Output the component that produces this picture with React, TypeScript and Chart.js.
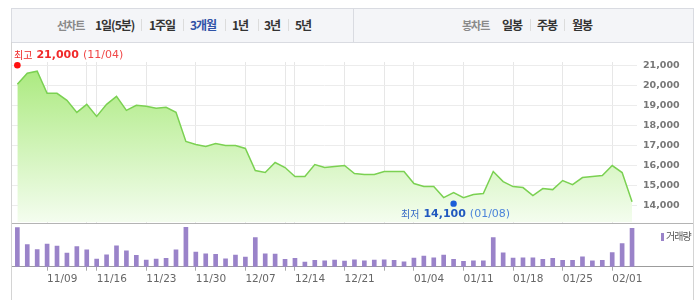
import { useEffect, useRef } from 'react';
import { Chart, registerables } from 'chart.js';

Chart.register(...registerables);

// ---- data ----
const dates: string[] = [
  '11/04', '11/05', '11/06',
  '11/09', '11/10', '11/11', '11/12', '11/13',
  '11/16', '11/17', '11/18', '11/19', '11/20',
  '11/23', '11/24', '11/25', '11/26', '11/27',
  '11/30', '12/01', '12/02', '12/03', '12/04',
  '12/07', '12/08', '12/09', '12/10', '12/11',
  '12/14', '12/15', '12/16', '12/17', '12/18',
  '12/21', '12/22', '12/23', '12/24',
  '12/28', '12/29', '12/30',
  '01/04', '01/05', '01/06', '01/07', '01/08',
  '01/11', '01/12', '01/13', '01/14', '01/15',
  '01/18', '01/19', '01/20', '01/21', '01/22',
  '01/25', '01/26', '01/27', '01/28', '01/29',
  '02/01', '02/02', '02/03',
];

const closePrices: number[] = [
  20050, 20600, 20700,
  19600, 19600, 19250, 18650, 19050,
  18450, 19050, 19450, 18750, 19000,
  18950, 18850, 18900, 18650, 17200,
  17050, 16950, 17100, 17000, 17000,
  16850, 15750, 15650, 16150, 15900,
  15450, 15450, 16050, 15900, 15950,
  16000, 15600, 15550, 15550,
  15700, 15700, 15700,
  15100, 14950, 14950, 14400, 14650,
  14400, 14550, 14600, 15700, 15200,
  14950, 14900, 14500, 14850, 14800,
  15250, 15050, 15400, 15450, 15500,
  16000, 15650, 14200,
];

const volumes: number[] = [
  118, 67, 52,
  68, 62, 41, 61, 51,
  23, 36, 63, 48, 34,
  20, 23, 25, 51, 119,
  44, 39, 37, 24, 35,
  29, 88, 39, 38, 22,
  25, 14, 19, 18, 20,
  17, 21, 18, 20,
  21, 19, 15,
  26, 32, 27, 35, 22,
  16, 18, 18, 88, 42,
  26, 27, 27, 22, 25,
  19, 19, 30, 18, 19,
  43, 70, 116,
];

const priceTicks: number[] = [14000, 15000, 16000, 17000, 18000, 19000, 20000, 21000];
const labeledTickDates: string[] = ['11/09', '11/16', '11/23', '11/30', '12/07', '12/14', '12/21', '01/04', '01/11', '01/18', '01/25', '02/01'];
const extraTickDates: string[] = ['11/13', '12/11', '12/28'];

const highPrice = 21000;
const highDate = '11/04';
const lowPrice = 14100;
const lowDate = '01/08';

const volumeLabel = '거래량';

// ---- helpers ----
const tickIndices = [...labeledTickDates, ...extraTickDates]
  .map((d) => dates.indexOf(d))
  .sort((a, b) => a - b);

const fmt = (v: number) => v.toLocaleString('en-US');

const X_MIN = -0.54;
const X_MAX = 62.5;

type Seg = { t: string; font: string; color: string };

function drawSegs(ctx: CanvasRenderingContext2D, segs: Seg[], x: number, y: number, align: 'left' | 'center', gap: number) {
  ctx.save();
  ctx.textBaseline = 'middle';
  ctx.textAlign = 'left';
  const widths = segs.map((s) => {
    ctx.font = s.font;
    return ctx.measureText(s.t).width;
  });
  const total = widths.reduce((a, b) => a + b, 0) + gap * (segs.length - 1);
  let cx = align === 'center' ? x - total / 2 : x;
  segs.forEach((s, i) => {
    ctx.font = s.font;
    ctx.fillStyle = s.color;
    ctx.fillText(s.t, cx, y);
    cx += widths[i] + gap;
  });
  ctx.restore();
}

const hiLoPlugin = {
  id: 'hiLo',
  afterDatasetsDraw(chart: any) {
    const { ctx, scales } = chart;
    const xs = scales.x;
    const ys = scales.y;
    const hx = xs.getPixelForValue(dates.indexOf(highDate));
    const hy = ys.getPixelForValue(highPrice);
    const lx = xs.getPixelForValue(dates.indexOf(lowDate));
    const ly = ys.getPixelForValue(lowPrice);

    ctx.save();
    ctx.fillStyle = '#ff1010';
    ctx.beginPath();
    ctx.arc(hx, hy, 3.3, 0, Math.PI * 2);
    ctx.fill();
    ctx.fillStyle = '#1b5fd8';
    ctx.beginPath();
    ctx.arc(lx, ly, 3.2, 0, Math.PI * 2);
    ctx.fill();
    ctx.restore();

    drawSegs(ctx, [
      { t: '최고', font: '10px "Noto Sans CJK KR"', color: '#f02a2a' },
      { t: fmt(highPrice), font: 'bold 11px "DejaVu Sans"', color: '#f02a2a' },
      { t: '(' + highDate + ')', font: '11px "DejaVu Sans"', color: '#f04848' },
    ], hx - 3.3, hy - 10.5, 'left', 4);

    drawSegs(ctx, [
      { t: '최저', font: '10px "Noto Sans CJK KR"', color: '#3a6cc6' },
      { t: fmt(lowPrice), font: 'bold 11px "DejaVu Sans"', color: '#2159bf' },
      { t: '(' + lowDate + ')', font: '11px "DejaVu Sans"', color: '#4c84da' },
    ], lx + 2, ly + 10.5, 'center', 4);
  },
};

const leftItems = [
  { t: '선차트', x: 57, c: '#8a8a8a', s: 11 },
  { t: '1일(5분)', x: 95, c: '#333', s: 12 },
  { t: '1주일', x: 149, c: '#333', s: 12 },
  { t: '3개월', x: 190, c: '#2f52a6', s: 12 },
  { t: '1년', x: 232, c: '#333', s: 12 },
  { t: '3년', x: 264, c: '#333', s: 12 },
  { t: '5년', x: 295, c: '#333', s: 12 },
  { t: '봉차트', x: 462, c: '#8a8a8a', s: 11 },
  { t: '일봉', x: 502, c: '#333', s: 12 },
  { t: '주봉', x: 537, c: '#333', s: 12 },
  { t: '월봉', x: 572, c: '#333', s: 12 },
];
const seps = [141, 183, 225, 258, 288, 530, 564];

export default function App() {
  const priceRef = useRef<HTMLCanvasElement | null>(null);
  const volRef = useRef<HTMLCanvasElement | null>(null);

  useEffect(() => {
    if (!priceRef.current || !volRef.current) return;

    const priceChart = new Chart(priceRef.current, {
      type: 'line',
      data: {
        datasets: [
          {
            data: closePrices.map((v, i) => ({ x: i, y: v })),
            borderColor: '#7bd152',
            borderWidth: 1.5,
            pointRadius: 0,
            tension: 0,
            fill: 'start',
            backgroundColor: (c: any) => {
              const ch = c.chart;
              const ca = ch.chartArea;
              if (!ca) return 'rgba(170,235,130,0.6)';
              const g = ch.ctx.createLinearGradient(0, ca.top, 0, ca.bottom);
              g.addColorStop(0, '#a8e97a');
              g.addColorStop(1, '#f4fdef');
              return g;
            },
          } as any,
        ],
      },
      options: {
        animation: false,
        responsive: false,
        maintainAspectRatio: false,
        layout: { padding: { left: 12, top: 62, right: 0, bottom: 77.5 } },
        plugins: { legend: { display: false }, tooltip: { enabled: false } },
        scales: {
          x: {
            type: 'linear',
            min: X_MIN,
            max: X_MAX,
            afterBuildTicks: (s: any) => {
              s.ticks = tickIndices.map((v) => ({ value: v }));
            },
            ticks: { display: false },
            grid: { color: '#e7e7e7', drawTicks: false },
            border: { display: false },
            afterFit: (s: any) => {
              s.height = 0;
            },
          },
          y: {
            position: 'right',
            min: 13160,
            max: 21160,
            afterBuildTicks: (s: any) => {
              s.ticks = priceTicks.map((v) => ({ value: v }));
            },
            ticks: {
              color: '#777',
              padding: 6,
              font: { family: '"DejaVu Sans"', size: 9.5, weight: 'bold' },
              callback: (v: any) => fmt(Number(v)),
            },
            grid: { color: '#ececec', drawTicks: false },
            border: { display: false },
            afterFit: (s: any) => {
              s.width = 63;
            },
          },
        },
      } as any,
      plugins: [hiLoPlugin],
    });

    const volChart = new Chart(volRef.current, {
      type: 'bar',
      data: {
        datasets: [
          {
            data: volumes.map((v, i) => ({ x: i, y: v })),
            backgroundColor: '#9a83c9',
            barThickness: 4,
          } as any,
        ],
      },
      options: {
        animation: false,
        responsive: false,
        maintainAspectRatio: false,
        layout: { padding: { left: 12, top: 224, right: 63, bottom: 0 } },
        plugins: { legend: { display: false }, tooltip: { enabled: false } },
        scales: {
          x: {
            type: 'linear',
            min: X_MIN,
            max: X_MAX,
            offset: false,
            afterBuildTicks: (s: any) => {
              s.ticks = tickIndices.map((v) => ({ value: v }));
            },
            ticks: {
              autoSkip: false,
              maxRotation: 0,
              align: 'start',
              color: '#666',
              padding: 2,
              font: { family: '"DejaVu Sans"', size: 10.5 },
              callback: (v: any) => {
                const d = dates[Math.round(Number(v))];
                return labeledTickDates.includes(d) ? d : '';
              },
            },
            grid: { drawOnChartArea: false, drawTicks: true, tickLength: 4, color: '#a8a8a8', offset: false },
            border: { display: false },
            afterFit: (s: any) => {
              s.height = 33.3;
            },
          },
          y: { display: false, min: 0, max: 129 },
        },
      } as any,
    });

    return () => {
      priceChart.destroy();
      volChart.destroy();
    };
  }, []);

  const abs = (o: any) => ({ position: 'absolute', ...o } as any);

  return (
    <div style={abs({ position: 'fixed', left: 0, top: 0, width: 700, height: 300, background: '#fff', overflow: 'hidden' })}>
      <div style={abs({ left: 11, top: 8, width: 683, height: 35, boxSizing: 'border-box', border: '1px solid #d9dbe1', background: '#f4f5f8' })} />
      <div style={abs({ left: 353, top: 8, width: 1, height: 35, background: '#d9dbe1' })} />
      {leftItems.map((it, i) => (
        <span
          key={i}
          style={abs({
            left: it.x,
            top: 17,
            lineHeight: '16px',
            fontSize: it.s,
            fontWeight: 700,
            color: it.c,
            letterSpacing: '-1px',
            whiteSpace: 'nowrap',
            fontFamily: '"Noto Sans CJK KR", sans-serif',
          })}
        >
          {it.t}
        </span>
      ))}
      {seps.map((x, i) => (
        <div key={'s' + i} style={abs({ left: x, top: 19, width: 1, height: 12, background: '#dcdcdc' })} />
      ))}
      <div style={abs({ left: 11, top: 42, width: 1, height: 258, background: '#d4d4d4' })} />
      <div style={abs({ left: 693, top: 42, width: 1, height: 258, background: '#d4d4d4' })} />
      <div style={abs({ left: 12, top: 223, width: 681, height: 1, background: '#b4b4b4' })} />
      <div style={abs({ left: 12, top: 266, width: 681, height: 1, background: '#9c9c9c' })} />
      <canvas ref={priceRef} width={700} height={300} style={abs({ left: 0, top: 0, width: 700, height: 300 })} />
      <canvas ref={volRef} width={700} height={300} style={abs({ left: 0, top: 0, width: 700, height: 300 })} />
      <div style={abs({ left: 661, top: 233, width: 3, height: 8, background: '#9a83c9' })} />
      <span
        style={abs({
          left: 666,
          top: 229,
          lineHeight: '14px',
          fontSize: 10,
          color: '#555',
          letterSpacing: '-1px',
          whiteSpace: 'nowrap',
          fontFamily: '"Noto Sans CJK KR", sans-serif',
        })}
      >
        {volumeLabel}
      </span>
    </div>
  );
}
